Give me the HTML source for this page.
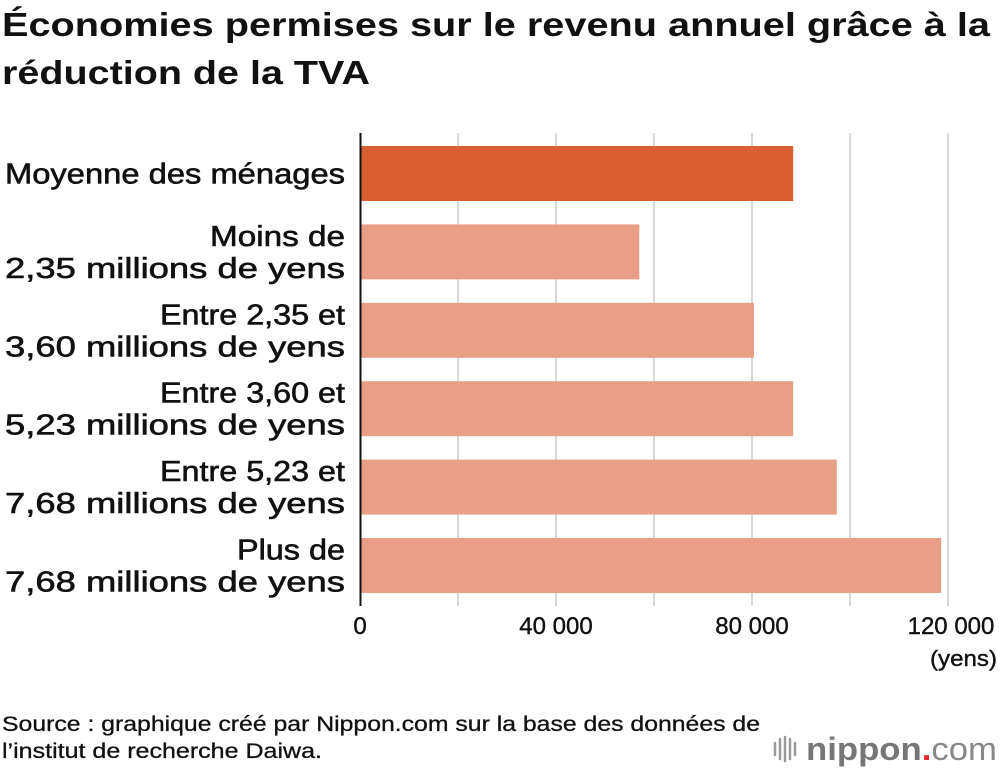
<!DOCTYPE html>
<html><head><meta charset="utf-8"><style>
body{margin:0;background:#fff;width:1000px;height:770px;overflow:hidden;font-family:"Liberation Sans",Arial,sans-serif}
</style></head><body>
<svg width="1000" height="770" xmlns="http://www.w3.org/2000/svg" font-family="Liberation Sans, Arial, sans-serif">
<text font-size="33" font-weight="bold" fill="#111"><tspan x="2" y="36" textLength="988" lengthAdjust="spacingAndGlyphs">Économies permises sur le revenu annuel grâce à la</tspan><tspan x="2" y="84" textLength="368" lengthAdjust="spacingAndGlyphs">réduction de la TVA</tspan></text>
<g id="grid"></g>
<g id="bars"></g>
<g id="labels"></g>
<line x1="360.5" y1="133" x2="360.5" y2="606" stroke="#111" stroke-width="2"/>
<g id="ticks"></g>
<text x="997" y="666" font-size="22" text-anchor="end" fill="#111" stroke="#111" stroke-width="0.4" textLength="67" lengthAdjust="spacingAndGlyphs">(yens)</text>
<text font-size="21" fill="#111" stroke="#111" stroke-width="0.3"><tspan x="2" y="731" textLength="758" lengthAdjust="spacingAndGlyphs">Source : graphique créé par Nippon.com sur la base des données de</tspan><tspan x="2" y="758" textLength="320" lengthAdjust="spacingAndGlyphs">l’institut de recherche Daiwa.</tspan></text>
<g>
<g stroke="#999" stroke-width="2.5" stroke-linecap="round">
<line x1="775" y1="743" x2="775" y2="755"/><line x1="780" y1="739" x2="780" y2="759"/><line x1="785" y1="737" x2="785" y2="761"/><line x1="790" y1="739" x2="790" y2="759"/><line x1="795" y1="743" x2="795" y2="755"/>
</g>
<text x="806" y="760" font-size="32" font-weight="bold" fill="#777" textLength="191" lengthAdjust="spacingAndGlyphs">nippon<tspan fill="#e8262a">.</tspan><tspan font-weight="normal" fill="#888">com</tspan></text>
</g>
</svg>
<script>
const categories=[["Moyenne des ménages"],["Moins de","2,35 millions de yens"],["Entre 2,35 et","3,60 millions de yens"],["Entre 3,60 et","5,23 millions de yens"],["Entre 5,23 et","7,68 millions de yens"],["Plus de","7,68 millions de yens"]];
const values=[88400,57000,80400,88400,97300,118600];
const tickValues=[0,40000,80000,120000];
const tickLabels=["0","40 000","80 000","120 000"];
const gridValues=[20000,40000,60000,80000,100000,120000];
const NS="http://www.w3.org/2000/svg";
const x=v=>360+v*0.0049;
const y=i=>146+i*78.4;
const bh=55;
function lineWidth(s){if(s.indexOf('millions')>=0||s.indexOf('Moyenne')>=0)return 340;if(s.indexOf('Entre')===0)return 185;if(s.indexOf('Moins')===0)return 135;return 108;}
function mk(t,a,p){const e=document.createElementNS(NS,t);for(const k in a)e.setAttribute(k,a[k]);p.appendChild(e);return e;}
const g=document.getElementById('grid'),b=document.getElementById('bars'),l=document.getElementById('labels'),tk=document.getElementById('ticks');
gridValues.forEach(v=>{const e=mk('line',{x1:x(v),x2:x(v),y1:133,y2:606,stroke:'#ccc','stroke-width':1.5},g);

});
values.forEach((v,i)=>{const r=mk('rect',{x:361,y:y(i),width:x(v)-361,height:bh,fill:i===0?'#d95f32':'#e89f85'},b);


const lines=categories[i];const t=mk('text',{'text-anchor':'end','font-size':29,fill:'#111',stroke:'#111','stroke-width':0.6},l);


const cy=y(i)+bh/2;
lines.forEach((s,j)=>{const ts=mk('tspan',{x:345,y:cy+10+(j-(lines.length-1)/2)*32,textLength:lineWidth(s),lengthAdjust:'spacingAndGlyphs'},t);ts.textContent=s;});});
tickValues.forEach((v,i)=>{const t=mk('text',{x:x(v)+(i===3?3:0),y:634,'text-anchor':'middle','font-size':24,fill:'#111',stroke:'#111','stroke-width':0.4},tk);


t.textContent=tickLabels[i];});
</script>
</body></html>
